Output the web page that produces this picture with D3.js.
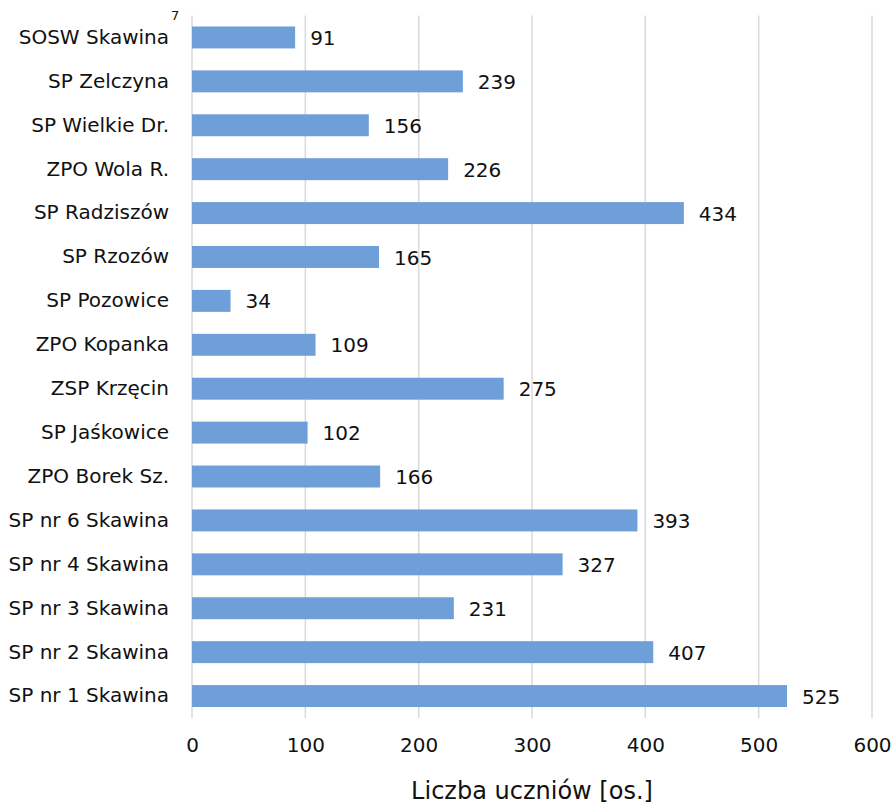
<!DOCTYPE html>
<html>
<head>
<meta charset="utf-8">
<script src="https://cdn.jsdelivr.net/npm/d3@7"></script>
<style>
  body { margin: 0; background: #fff; }
  svg { font-family: "DejaVu Sans", sans-serif; }
</style>
</head>
<body>
<svg id="chart"></svg>
<script>
// school names, top to bottom
const schools = [
  "SOSW Skawina", "SP Zelczyna", "SP Wielkie Dr.", "ZPO Wola R.", "SP Radziszów",
  "SP Rzozów", "SP Pozowice", "ZPO Kopanka", "ZSP Krzęcin", "SP Jaśkowice",
  "ZPO Borek Sz.", "SP nr 6 Skawina", "SP nr 4 Skawina", "SP nr 3 Skawina",
  "SP nr 2 Skawina", "SP nr 1 Skawina"
];
const students = [91, 239, 156, 226, 434, 165, 34, 109, 275, 102, 166, 393, 327, 231, 407, 525];
const xTicks = [0, 100, 200, 300, 400, 500, 600];
const axisTitle = "Liczba uczniów [os.]";

const width = 893, height = 805;
const margin = { top: 15.5, right: 21, bottom: 87, left: 192 };
const font = "\"DejaVu Sans\", sans-serif";

const svg = d3.select("#chart")
  .attr("width", width)
  .attr("height", height);

const x = d3.scaleLinear()
  .domain([0, 600])
  .range([margin.left, width - margin.right]);

const y = d3.scaleBand()
  .domain(schools)
  .range([margin.top, height - margin.bottom])
  .paddingInner(0.5)
  .paddingOuter(0.25);

// gridlines
svg.append("g")
  .selectAll("line")
  .data(xTicks)
  .join("line")
  .attr("x1", d => x(d))
  .attr("x2", d => x(d))
  .attr("y1", margin.top)
  .attr("y2", height - margin.bottom)
  .attr("stroke", "#d9d9d9")
  .attr("stroke-width", 1.5);

// bars
svg.append("g")
  .selectAll("rect")
  .data(students)
  .join("rect")
  .attr("x", x(0))
  .attr("y", (d, i) => y(schools[i]))
  .attr("width", d => x(d) - x(0))
  .attr("height", y.bandwidth())
  .attr("fill", "#6f9fd8");

// value labels
svg.append("g")
  .selectAll("text")
  .data(students)
  .join("text")
  .attr("x", d => x(d) + 15)
  .attr("y", (d, i) => y(schools[i]) + y.bandwidth() / 2)
  .attr("dy", "0.38em")
  .attr("font-size", 20)
  .attr("fill", "#111")
  .text(d => d);

// category axis
const yAxis = d3.axisLeft(y).tickSize(0).tickPadding(23);
const gy = svg.append("g")
  .attr("transform", `translate(${margin.left},0)`)
  .call(yAxis);
gy.select(".domain").remove();
gy.selectAll("text")
  .attr("font-size", 20)
  .attr("font-family", font)
  .attr("fill", "#111");

// footnote marker on first label
svg.append("text")
  .attr("x", 171)
  .attr("y", 20)
  .attr("font-size", 13)
  .attr("fill", "#111")
  .text("7");

// value axis
const xAxis = d3.axisBottom(x).tickValues(xTicks).tickSize(0).tickPadding(20);
const gx = svg.append("g")
  .attr("transform", `translate(0,${height - margin.bottom})`)
  .call(xAxis);
gx.select(".domain").remove();
gx.selectAll("text")
  .attr("font-size", 20)
  .attr("font-family", font)
  .attr("fill", "#111");

svg.append("text")
  .attr("x", (x(0) + x(600)) / 2)
  .attr("y", 799)
  .attr("text-anchor", "middle")
  .attr("font-size", 24)
  .attr("fill", "#111")
  .text(axisTitle);
</script>
</body>
</html>
